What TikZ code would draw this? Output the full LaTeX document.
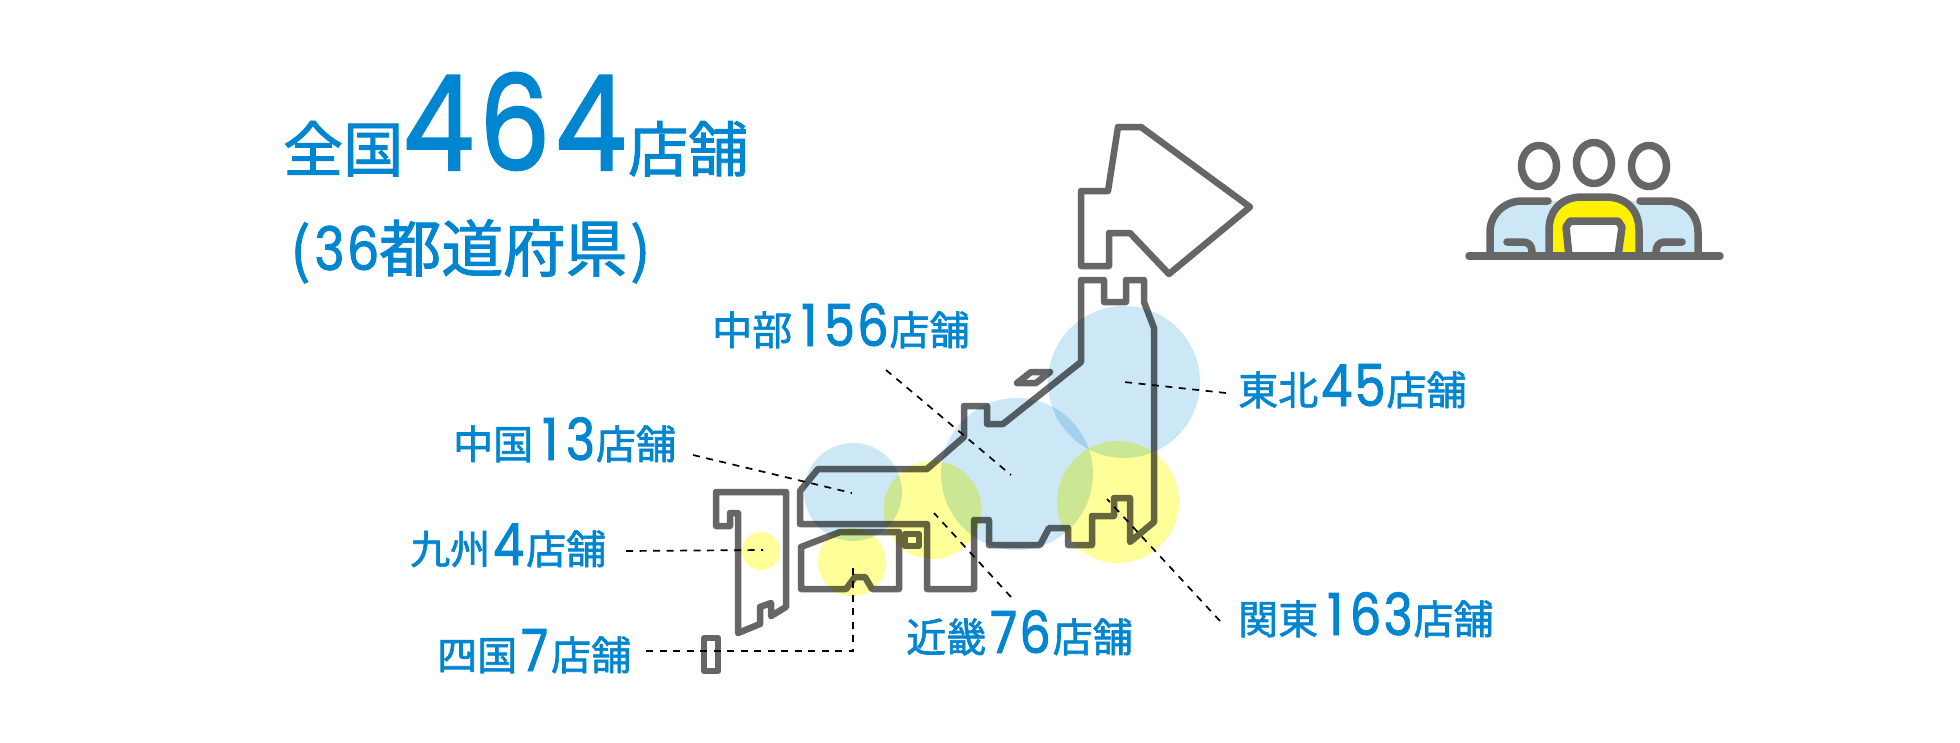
\documentclass[tikz,border=0pt]{standalone}
\usepackage{fontspec}
\newfontfamily\kj[FakeBold=1.6]{Noto Sans CJK JP}
\newfontfamily\dg[FakeStretch=0.85,FakeBold=1.6,LetterSpace=4]{Poppins}
\definecolor{txt}{HTML}{0086D1}
\definecolor{ln}{HTML}{666666}
\definecolor{bl}{HTML}{CCE7F6}
\definecolor{ye}{HTML}{FFFF99}
\newcommand{\KJ}[2][60]{\raisebox{-1.5pt}{\fontsize{#1}{#1}\kj #2}}
\newcommand{\KS}[1]{\raisebox{1pt}{\fontsize{40}{40}\kj #1}}
\newcommand{\DG}[2][58]{{\fontsize{#1}{#1}\dg #2}}
\tikzset{
  x=1pt,y=-1pt,
  map/.style={draw=ln,line width=6.5pt,line join=round,line cap=round},
  icon/.style={draw=ln,line width=7.5pt,line join=round,line cap=round},
  blob/.style={blend mode=multiply},
  leader/.style={draw=black,line width=1.7pt,dash pattern=on 7pt off 6.5pt},
  lab/.style={text=txt,inner sep=0pt,anchor=base west}
}
\begin{document}
\begin{tikzpicture}
\useasboundingbox (0,0) rectangle (1960,742);
\fill[white] (0,0) rectangle (1960,742);
% map
\draw[map] (1118,127) -- (1141,127) -- (1250,207) -- (1169,274) -- (1130,233) -- (1109,233) -- (1109,266) -- (1081,266) -- (1081,191) -- (1108,191) -- cycle;
\draw[map] (1081,280) -- (1104,280) -- (1104,302) -- (1126,302) -- (1126,280) -- (1144,280) -- (1144,302) -- (1154,328) -- (1154,522) -- (1130,542) -- (1130,498) -- (1114,498) -- (1114,516) -- (1092,516) -- (1092,545) -- (1068,545) -- (1068,528) -- (1049,528) -- (1040,545) -- (989,545) -- (989,520) -- (974,520) -- (974,589) -- (927,589) -- (927,524) -- (800,524) -- (800,491) -- (818,469) -- (927,469) -- (964,437) -- (964,406) -- (987,406) -- (987,424) -- (1003,424) -- (1081,362) -- cycle;
\draw[map] (1017,383) -- (1031,372) -- (1050,372) -- (1036,383) -- cycle;
\draw[map] (716,492) -- (786,492) -- (786,607) -- (771,616) -- (771,603) -- (760,607) -- (760,624) -- (738,633) -- (738,513) -- (730,513) -- (730,526) -- (716,526) -- cycle;
\draw[map] (704,638) rectangle (718,671);
\draw[map] (801,547) -- (840,532) -- (899,532) -- (899,589) -- (872,589) -- (865,577) -- (855,577) -- (846,589) -- (801,589) -- cycle;
\draw[map] (905,534) rectangle (919,546);
% region circles
\coordinate (tohoku) at (1124,382);
\coordinate (chubu) at (1011,475);
\coordinate (chugoku) at (852,493);
\coordinate (kinki) at (934,513);
\coordinate (kanto) at (1107,499);
\coordinate (kyushu) at (763,550);
\coordinate (shikoku) at (853,562);
\fill[bl,blob] (1124,382) circle[radius=76];
\fill[bl,blob] (1017,474) circle[radius=76];
\fill[bl,blob] (853,492) circle[radius=49];
\fill[ye,blob] (932.5,510) circle[radius=49];
\fill[ye,blob] (1118,502) circle[radius=61];
\fill[ye,blob] (761,551) circle[radius=19];
\fill[ye,blob] (852,562) circle[radius=34];
% titles
\node[lab] (total) at (283,170) {\KJ{全国}\DG[132]{464}\hspace{2pt}\KJ{店舗}};
\node[lab] (pref) at (290,270) {\KJ{(}\hspace{4pt}\DG[60]{36}\KJ[62]{都道府県}\hspace{3pt}\KJ{)}};
% labels
\node[lab] (lchubu) at (712,346) {\KS{中部}\hspace{3pt}\DG{\kern6pt 1\kern7pt 56}\hspace{1pt}\KS{店舗}};
\node[lab] (ltohoku) at (1238,406) {\KS{東北}\hspace{3pt}\DG{45}\hspace{1pt}\KS{店舗}};
\node[lab] (lchugoku) at (453,460) {\KS{中国}\hspace{3pt}\DG{\kern6pt 1\kern8pt 3}\hspace{1pt}\KS{店舗}};
\node[lab] (lkyushu) at (410,565) {\KS{九州}\hspace{3pt}\DG{4}\hspace{2pt}\KS{店舗}};
\node[lab] (lshikoku) at (437,671) {\KS{四国}\hspace{4pt}\DG{7}\hspace{3pt}\KS{店舗}};
\node[lab] (lkinki) at (906,653) {\KS{近畿}\hspace{4pt}\DG{76}\hspace{2pt}\KS{店舗}};
\node[lab] (lkanto) at (1238,635) {\KS{関東}\hspace{3pt}\DG{\kern6pt 1\kern7pt 63}\hspace{1pt}\KS{店舗}};
% leaders
\coordinate (e1) at (886,370);
\coordinate (e2) at (1226,393);
\coordinate (e3) at (693,455);
\coordinate (e4) at (1011,597);
\coordinate (e5) at (1220,621);
\coordinate (e6) at (626,551);
\coordinate (e7) at (646,651);
\coordinate (e8) at (853,651);
\draw[leader] (e1) -- (chubu);
\draw[leader] (e2) -- (tohoku);
\draw[leader] (e3) -- (chugoku);
\draw[leader] (e4) -- (kinki);
\draw[leader] (e5) -- (kanto);
\draw[leader] (e6) -- (kyushu);
\draw[leader] (e7) -- (e8) -- (shikoku);
% icon
\fill[bl] (1490,256) -- (1490,232) .. controls (1490,214) and (1505,201) .. (1522,201) -- (1667,201) .. controls (1684,201) and (1698,214) .. (1698,232) -- (1698,256) -- cycle;
\fill[yellow] (1549,256) -- (1549,230) .. controls (1549,210) and (1562,197) .. (1582,197) -- (1606,197) .. controls (1626,197) and (1639,210) .. (1639,230) -- (1639,256) -- cycle;
\fill[white] (1569,256) -- (1566,227) -- (1570,221) -- (1618,221) -- (1622,227) -- (1618,256) -- cycle;
\draw[icon] (1490,256) -- (1490,232) .. controls (1490,214) and (1505,201) .. (1522,201) -- (1548,201);
\draw[icon] (1698,256) -- (1698,232) .. controls (1698,214) and (1684,201) .. (1667,201) -- (1640,201);
\draw[icon] (1507,242) -- (1523,242) .. controls (1529,242) and (1532,246) .. (1532,252) -- (1532,256);
\draw[icon] (1682,242) -- (1665,242) .. controls (1659,242) and (1656,246) .. (1656,252) -- (1656,256);
\draw[icon] (1549,256) -- (1549,230) .. controls (1549,210) and (1562,197) .. (1582,197) -- (1606,197) .. controls (1626,197) and (1639,210) .. (1639,230) -- (1639,256);
\draw[icon] (1569,256) -- (1566,227) -- (1570,221) -- (1618,221) -- (1622,227) -- (1618,256);
\draw[icon] (1539,166) ellipse[x radius=17.5,y radius=20.5];
\draw[icon] (1594,163) ellipse[x radius=17.5,y radius=20.5];
\draw[icon] (1649,166) ellipse[x radius=17.5,y radius=20.5];
\draw[icon] (1469,256) -- (1720,256);
\end{tikzpicture}
\end{document}
